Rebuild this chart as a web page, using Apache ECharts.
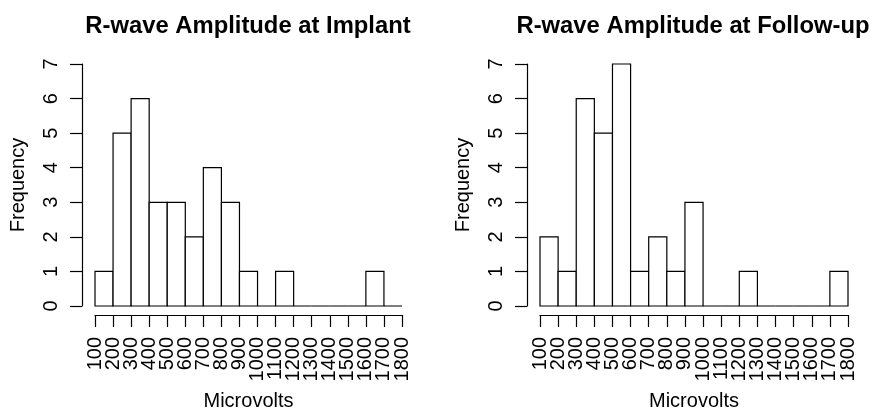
<!DOCTYPE html>
<html><head><meta charset="utf-8">
<script src="https://cdn.jsdelivr.net/npm/echarts@6/dist/echarts.min.js"></script>
<style>html,body{margin:0;padding:0;background:#fff}#c{width:870px;height:410px}</style>
</head><body><div id="c"></div>
<script>
const binStarts = [100,200,300,400,500,600,700,800,900,1000,1100,1200,1300,1400,1500,1600,1700];
const binWidth = 100;
const implantCounts  = [1,5,6,3,3,2,4,3,1,0,1,0,0,0,0,1,0];
const followupCounts = [2,1,6,5,7,1,2,1,3,0,0,1,0,0,0,0,1];
const xTickLabels = ['100','200','300','400','500','600','700','800','900','1000','1100','1200','1300','1400','1500','1600','1700','1800'];
const titles = ['R-wave Amplitude at Implant','R-wave Amplitude at Follow-up'];
const xName = 'Microvolts';
const yName = 'Frequency';

const FONT = '"Liberation Sans", Arial, sans-serif';
const chart = echarts.init(document.getElementById('c'), null, {renderer:'canvas'});

function histData(counts){ return binStarts.map((s,i)=>[s, s+binWidth, counts[i]]); }
function renderItem(params, api){
  const a = api.coord([api.value(0), 0]);
  const b = api.coord([api.value(1), api.value(2)]);
  return {type:'rect', shape:{x:a[0], y:b[1], width:b[0]-a[0], height:a[1]-b[1]},
    style:{fill:'#fff', stroke:'#000', lineWidth:1.2}};
}
const grids = [
  {left:95, top:64, width:307, height:242, containLabel:false, outerBoundsMode:'none'},
  {left:540, top:64, width:308, height:242, containLabel:false, outerBoundsMode:'none'}
];
function xValueAxis(i){
  return {gridIndex:i, type:'value', min:binStarts[0], max:binStarts[binStarts.length-1]+binWidth, show:false};
}
function xTickAxis(i){
  return {gridIndex:i, type:'category', data:xTickLabels, boundaryGap:false, position:'bottom', offset:9,
    name:xName, nameLocation:'middle', nameGap:76, nameMoveOverlap:false,
    nameTextStyle:{color:'#000', fontSize:20, fontFamily:FONT},
    axisLine:{show:true, onZero:false, lineStyle:{color:'#000', width:1.2}},
    axisTick:{show:true, length:12, interval:0, alignWithLabel:true, lineStyle:{color:'#000', width:1.2}},
    axisLabel:{rotate:90, interval:0, margin:22, color:'#000', fontSize:20, fontFamily:FONT, hideOverlap:false},
    splitLine:{show:false}};
}
function yAxis(i){
  return {gridIndex:i, type:'value', min:0, max:7, interval:1, position:'left', offset:13,
    name:yName, nameLocation:'middle', nameGap:54, nameRotate:90, nameMoveOverlap:false,
    nameTextStyle:{color:'#000', fontSize:20, fontFamily:FONT},
    axisLine:{show:true, onZero:false, lineStyle:{color:'#000', width:1.2}},
    axisTick:{show:true, length:12, lineStyle:{color:'#000', width:1.2}},
    axisLabel:{rotate:90, margin:21, color:'#000', fontSize:20, fontFamily:FONT, align:'center', verticalAlign:'bottom', hideOverlap:false},
    splitLine:{show:false}};
}
chart.setOption({
  backgroundColor:'#fff',
  animation:false,
  title: titles.map((t,i)=>({text:t, left: i===0?243:688, top:9, textAlign:'center',
    textStyle:{color:'#000', fontSize:23.8, fontWeight:'bold', fontFamily:FONT}})),
  grid: grids,
  xAxis: [xValueAxis(0), xValueAxis(1), xTickAxis(0), xTickAxis(1)],
  yAxis: [yAxis(0), yAxis(1)],
  series: [
    {type:'custom', xAxisIndex:0, yAxisIndex:0, renderItem, data:histData(implantCounts), encode:{x:[0,1], y:2}},
    {type:'custom', xAxisIndex:1, yAxisIndex:1, renderItem, data:histData(followupCounts), encode:{x:[0,1], y:2}}
  ]
});
</script></body></html>
